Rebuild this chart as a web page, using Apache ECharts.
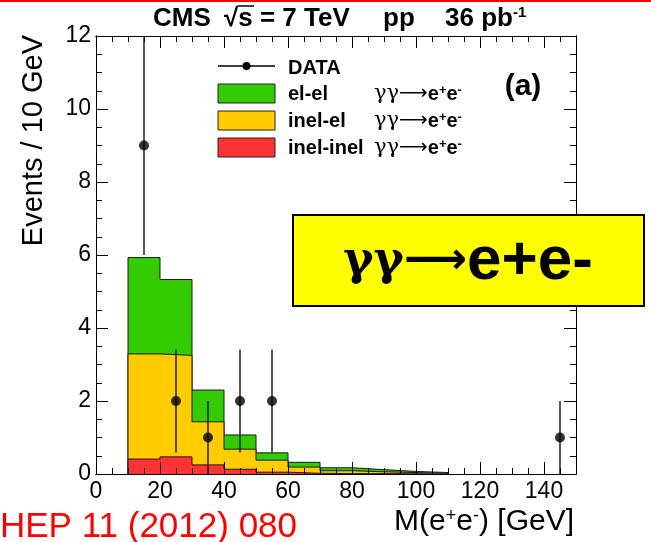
<!DOCTYPE html>
<html lang="en">
<head>
<meta charset="UTF-8">
<script src="https://cdn.jsdelivr.net/npm/echarts@6/dist/echarts.min.js"></script>
</head>
<body style="margin: 0; background: #fff">
<div id="container" style="width: 651px; height: 542px"></div>
<script>
// histogram bins (lower edges, GeV) and the three MC contributions per bin
var binLow = [10, 20, 30, 40, 50, 60, 70, 80, 90, 100];
var binWidth = 10;
var elEl = [2.64, 2.08, 0.87, 0.39, 0.20, 0.13, 0.08, 0.06, 0.03, 0.02];
var inelEl = [2.88, 2.78, 1.18, 0.55, 0.33, 0.17, 0.08, 0.05, 0.035, 0.02];
var inelInel = [0.41, 0.47, 0.25, 0.13, 0.05, 0.02, 0.01, 0.01, 0.005, 0];

// data points
var dataMass = [15, 25, 35, 45, 55, 145];
var dataEvents = [9, 2, 1, 2, 2, 1];
var dataErr = [3, 1.41, 1, 1.41, 1.41, 1];

var FONT = "'Liberation Sans', Arial, sans-serif";

// cumulative tops (ROOT THStack style: draw total first, then overlay)
var topRed = inelInel.slice();
var topYellow = inelInel.map(function (v, i) { return v + inelEl[i]; });
var topGreen = topYellow.map(function (v, i) { return v + elEl[i]; });

function stepData(vals) {
    var d = [[binLow[0], 0]];
    for (var i = 0; i < vals.length; i++) d.push([binLow[i], vals[i]]);
    d.push([binLow[vals.length - 1] + binWidth, 0]);
    return d;
}

function histSeries(name, vals, color, z) {
    return {
        name: name,
        type: 'line',
        step: 'end',
        data: stepData(vals),
        showSymbol: false,
        symbol: 'none',
        z: z,
        lineStyle: { color: '#1a1a1a', width: 1 },
        areaStyle: { color: color, opacity: 1 }
    };
}

var frame = { show: true, onZero: false, lineStyle: { color: '#000', width: 1 } };
function xAx(pos, interval, len, labels) {
    return {
        type: 'value', min: 0, max: 150, interval: interval, position: pos, z: 10,
        axisLine: frame,
        axisTick: { show: true, inside: true, length: len, lineStyle: { color: '#000' } },
        axisLabel: { show: labels, fontSize: 23, color: '#000', fontFamily: FONT, margin: 6, showMaxLabel: false },
        splitLine: { show: false }
    };
}
function yAx(pos, interval, len, labels) {
    return {
        type: 'value', min: 0, max: 12, interval: interval, position: pos, z: 10,
        axisLine: frame,
        axisTick: { show: true, inside: true, length: len, lineStyle: { color: '#000' } },
        axisLabel: { show: labels, fontSize: 23, color: '#000', fontFamily: FONT, margin: 5 },
        splitLine: { show: false }
    };
}

var chart = echarts.init(document.getElementById('container'));

var gg = '{g|γγ}{a|⟶}{b|e}{s|+}{b|e}{s|-}';
var ggRich = {
    g: { fontFamily: "'DejaVu Serif', serif", fontSize: 21, color: '#000' },
    a: { fontFamily: "'DejaVu Sans', sans-serif", fontSize: 20, color: '#000' },
    b: { fontFamily: FONT, fontSize: 20, fontWeight: 'bold', color: '#000' },
    s: { fontFamily: FONT, fontSize: 13, fontWeight: 'bold', color: '#000', verticalAlign: 'top', padding: [0, 0, 8, 0] }
};

function legendRow(y, color, label) {
    return [
        { type: 'rect', shape: { x: 218, y: y - 10, width: 57, height: 19 }, z: 20,
          style: { fill: color, stroke: '#222', lineWidth: 1 } },
        { type: 'text', x: 288, y: y, z: 20,
          style: { text: label, fontFamily: FONT, fontSize: 20, fontWeight: 'bold', fill: '#000', verticalAlign: 'middle' } },
        { type: 'text', x: 374, y: y, z: 20,
          style: { text: gg, rich: ggRich, verticalAlign: 'middle' } }
    ];
}

function titleText(x, text) {
    return { type: 'text', x: x, y: 19, z: 20,
      style: { text: text, align: 'left', verticalAlign: 'middle',
        rich: {
            t: { fontFamily: FONT, fontSize: 26, fontWeight: 'bold', color: '#000' },
            s: { fontFamily: FONT, fontSize: 15, fontWeight: 'bold', color: '#000', verticalAlign: 'top', padding: [0, 0, 12, 0] }
        } } };
}

var graphics = [
    { type: 'rect', shape: { x: 0, y: 0, width: 651, height: 2 }, style: { fill: '#ff0000' } },
    titleText(153, '{t|CMS}'),
    titleText(224, '{t|√s = 7 TeV}'),
    titleText(383, '{t|pp}'),
    titleText(445, '{t|36 pb}{s|-1}'),
    { type: 'line', shape: { x1: 238, y1: 6, x2: 254, y2: 6 }, z: 20, style: { stroke: '#000', lineWidth: 1.5 } },
    { type: 'text', x: 34, y: 35, rotation: Math.PI / 2, z: 20,
      style: { text: 'Events / 10 GeV', fontFamily: FONT, fontSize: 29, fill: '#000', align: 'right', verticalAlign: 'middle' } },
    { type: 'text', x: 574, y: 522, z: 20,
      style: { text: '{t|M(e}{s|+}{t|e}{s|-}{t|) [GeV]}', align: 'right', verticalAlign: 'middle',
        rich: {
            t: { fontFamily: FONT, fontSize: 30, color: '#000' },
            s: { fontFamily: FONT, fontSize: 18, color: '#000', verticalAlign: 'top', padding: [0, 0, 12, 0] }
        } } },
    { type: 'text', x: 0, y: 527, z: 20,
      style: { text: 'HEP 11 (2012) 080', fontFamily: FONT, fontSize: 35, fill: '#ff0000', verticalAlign: 'middle' } },
    { type: 'text', x: 523, y: 87, z: 20,
      style: { text: '(a)', fontFamily: FONT, fontSize: 30, fontWeight: 'bold', fill: '#000', align: 'center', verticalAlign: 'middle' } },
    // DATA legend entry
    { type: 'line', shape: { x1: 218, y1: 66, x2: 275, y2: 66 }, z: 20, style: { stroke: '#000', lineWidth: 1.5 } },
    { type: 'circle', shape: { cx: 246.5, cy: 66, r: 4 }, z: 20, style: { fill: '#000' } },
    { type: 'text', x: 288, y: 68, z: 20,
      style: { text: 'DATA', fontFamily: FONT, fontSize: 20, fontWeight: 'bold', fill: '#000', verticalAlign: 'middle' } },
    // yellow banner
    { type: 'rect', shape: { x: 293, y: 215, width: 351, height: 91 }, z: 30,
      style: { fill: '#ffff00', stroke: '#000', lineWidth: 2 } },
    { type: 'text', x: 468, y: 262, z: 31,
      style: { text: '{g|γγ}{a|⟶}{e|e+e-}', align: 'center', verticalAlign: 'middle',
        rich: {
            g: { fontFamily: "'DejaVu Serif', serif", fontSize: 46, fontWeight: 'bold', color: '#2a0aa0' },
            a: { fontFamily: "'DejaVu Sans', sans-serif", fontSize: 44, fontWeight: 'bold', color: '#2a0aa0' },
            e: { fontFamily: FONT, fontSize: 62, fontWeight: 'bold', color: '#2a0aa0' }
        } } }
]
.concat(legendRow(94, '#33cc00', 'el-el'))
.concat(legendRow(121, '#ffcc00', 'inel-el'))
.concat(legendRow(148, '#ff3333', 'inel-inel'));

var option = {
    animation: false,
    backgroundColor: '#fff',
    grid: { left: 96, right: 75, top: 36, bottom: 68 },
    xAxis: [xAx('bottom', 20, 12, true), xAx('bottom', 5, 6, false), xAx('top', 20, 12, false), xAx('top', 5, 6, false)],
    yAxis: [yAx('left', 2, 12, true), yAx('left', 0.5, 6, false), yAx('right', 2, 12, false), yAx('right', 0.5, 6, false)],
    graphic: graphics,
    series: [
        histSeries('el-el', topGreen, '#33cc00', 2),
        histSeries('inel-el', topYellow, '#ffcc00', 3),
        histSeries('inel-inel', topRed, '#ff3333', 4),
        {
            type: 'custom',
            name: 'errors',
            z: 5,
            clip: true,
            data: dataMass.map(function (m, i) { return [m, dataEvents[i] - dataErr[i], dataEvents[i] + dataErr[i]]; }),
            renderItem: function (params, api) {
                var lo = api.coord([api.value(0), api.value(1)]);
                var hi = api.coord([api.value(0), api.value(2)]);
                return { type: 'line', shape: { x1: lo[0], y1: lo[1], x2: hi[0], y2: hi[1] },
                         style: { stroke: '#222', lineWidth: 1.5 } };
            }
        },
        {
            type: 'scatter',
            name: 'DATA',
            z: 6,
            symbolSize: 10,
            itemStyle: { color: '#000' },
            data: dataMass.map(function (m, i) { return [m, dataEvents[i]]; })
        }
    ]
};
chart.setOption(option);
</script>
</body>
</html>
